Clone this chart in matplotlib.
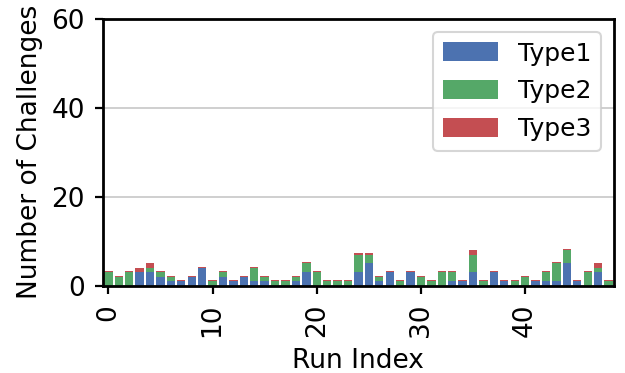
import matplotlib; matplotlib.use("Agg")
import matplotlib.pyplot as plt
import numpy as np

# per-run challenge counts
runs = list(range(49))
type1 = [0,0,0,3,3,2,1,1,2,4,0,2,1,2,1,1,0,0,1,3,0,0,0,0,3,5,1,3,0,3,
         0,0,0,1,1,3,0,3,1,0,0,1,1,1,5,1,0,3,0]
type2 = [3,2,3,0,1,1,1,0,0,0,1,1,0,0,3,1,1,1,1,2,3,1,1,1,4,2,1,0,1,0,
         2,1,3,2,0,4,1,0,0,1,2,0,2,4,3,0,3,1,1]
type3 = [0.25,0.25,0.25,1,1,0.25,0.25,0.25,0.25,0.25,0.25,0.25,0.25,0.25,0.25,0.25,0.25,0.25,0.25,0.25,
         0.25,0.25,0.25,0.25,0.25,0.25,0.25,0.25,0.25,0.25,0.25,0.25,0.25,0.25,0.25,1,0.25,0.25,0.25,0.25,
         0.25,0.25,0.25,0.25,0.25,0.25,0.25,1,0.25]
labels = ["Type1", "Type2", "Type3"]
colors = ["#4C72B0", "#55A868", "#C44E52"]
yticks = [0, 20, 40, 60]
xticks = [0, 10, 20, 30, 40]

plt.rcParams["font.family"] = "DejaVu Sans"
FS = 19

fig = plt.figure(figsize=(6.25, 3.73), dpi=100)
ax = fig.add_axes([0.165, 0.234, 0.817, 0.715])

bottom = np.zeros(len(runs))
for vals, lab, col in zip([type1, type2, type3], labels, colors):
    ax.bar(runs, vals, width=0.8, bottom=bottom, color=col, label=lab, zorder=2)
    bottom += np.array(vals)

ax.set_xlim(-0.5, 48.5)
ax.set_ylim(0, 60)
ax.set_yticks(yticks)
ax.set_xticks(xticks)
ax.set_xticklabels([str(x) for x in xticks], rotation=90)
ax.yaxis.grid(True, color="#cccccc", lw=1.3, zorder=0)
ax.xaxis.grid(False)
for s in ax.spines.values():
    s.set_linewidth(2); s.set_color("black")
ax.tick_params(labelsize=FS, length=6, width=1.6, pad=7, colors="black")
ax.set_xlabel("Run Index", fontsize=FS, labelpad=8)
ax.set_ylabel("Number of Challenges", fontsize=FS, labelpad=6)

leg = ax.legend(loc="upper right", fontsize=18, handlelength=2.2, handleheight=0.8,
                labelspacing=0.55, framealpha=0.8, edgecolor="#cccccc", fancybox=True)
leg.get_frame().set_linewidth(1.5)

fig.savefig("out.png", dpi=100)
